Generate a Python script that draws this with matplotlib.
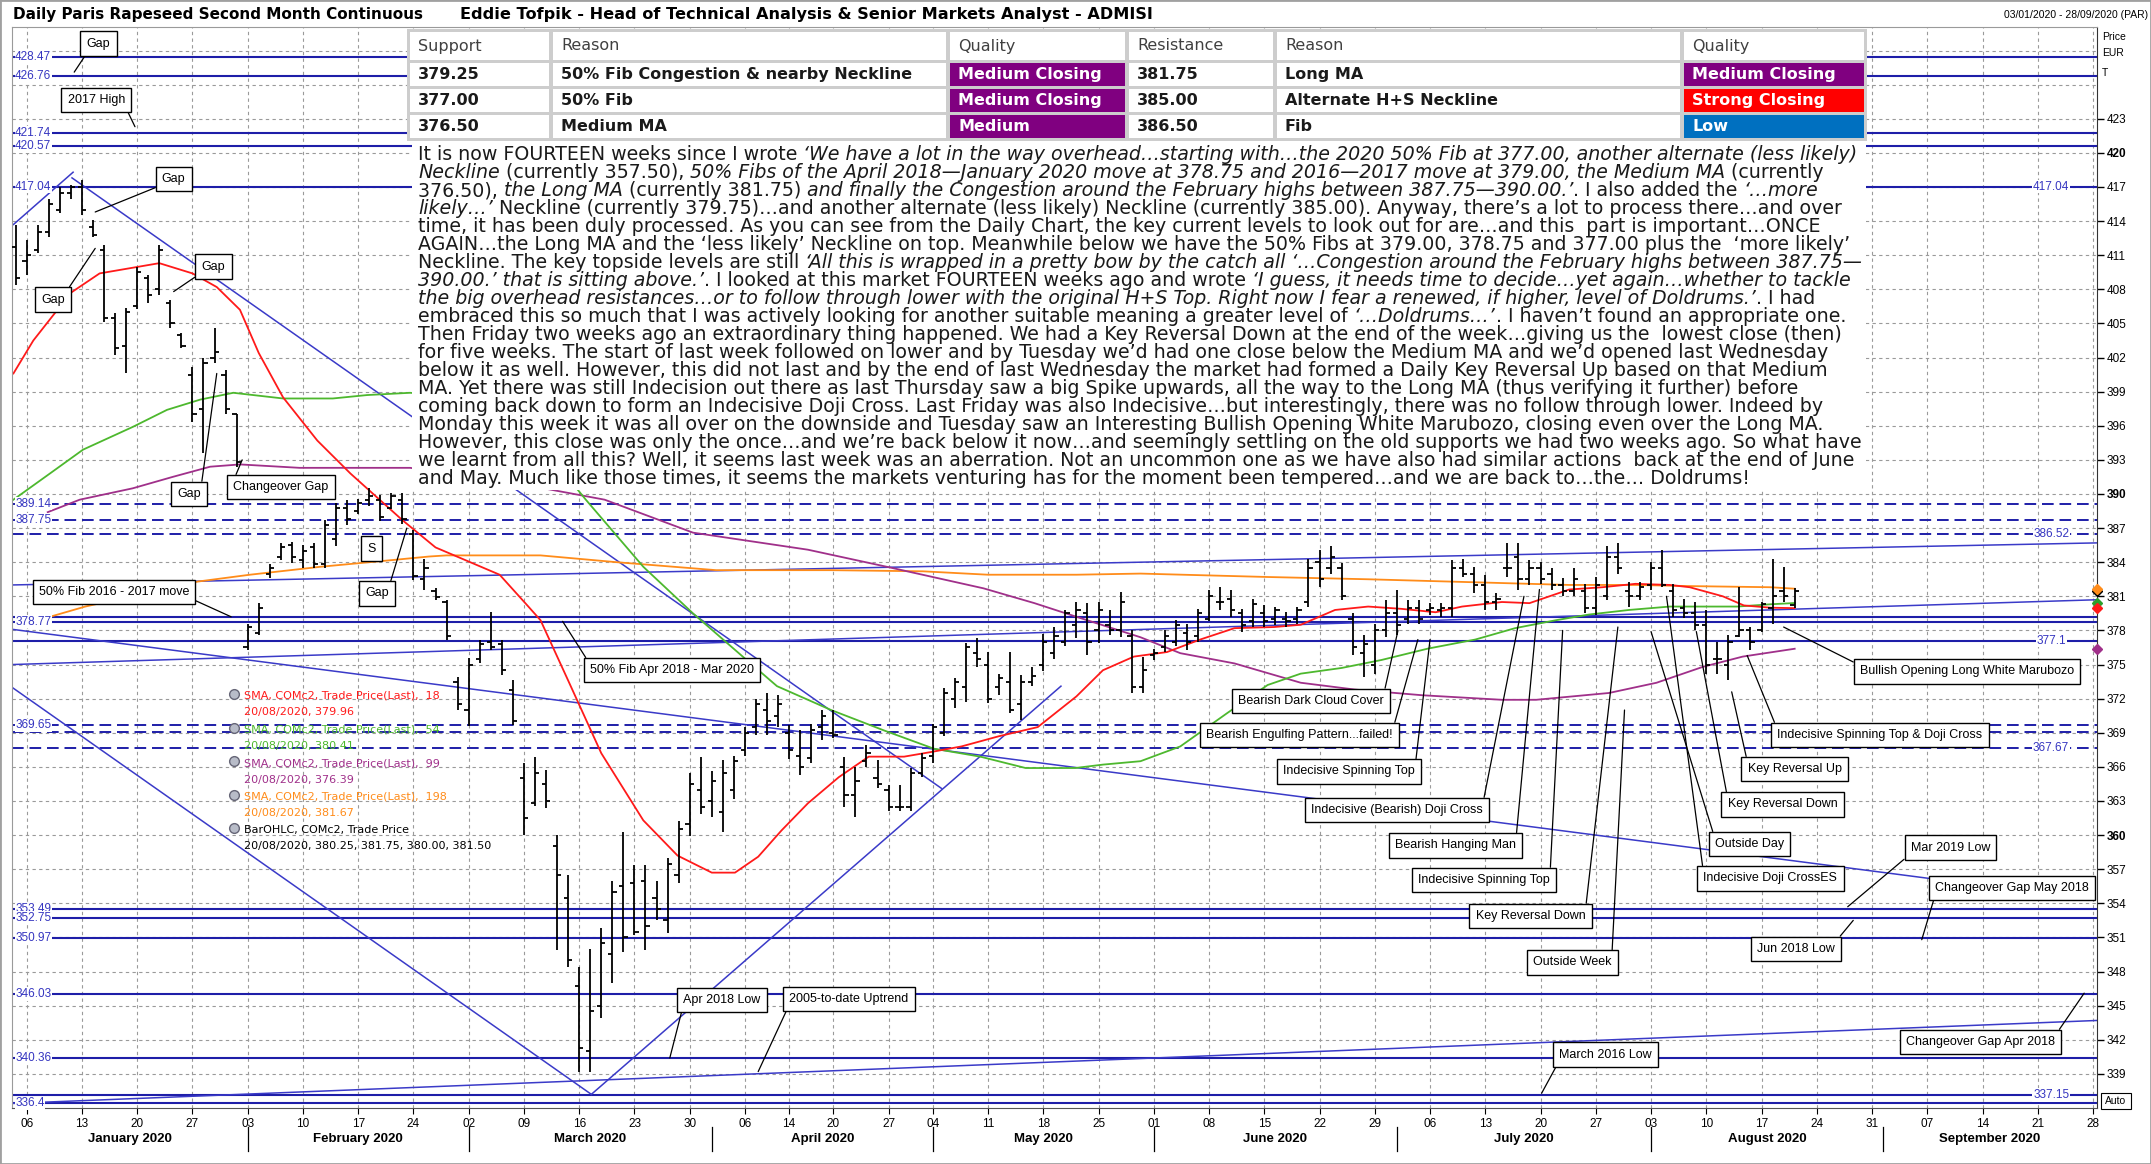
import matplotlib
matplotlib.use("Agg")
import matplotlib.pyplot as plt
import numpy as np
import pandas as pd
from matplotlib.font_manager import FontProperties
from matplotlib.lines import Line2D
from matplotlib.patches import Rectangle
from matplotlib.transforms import blended_transform_factory

W, H = 2151, 1164  # output size in pixels, saved at dpi 100

plt.rcParams["font.family"] = ["Liberation Sans", "DejaVu Sans"]

# ---------------------------------------------------------------- data
holidays = ["2020-04-10", "2020-04-13", "2020-05-01"]

# daily OHLC, 03/01/2020 .. 20/08/2020 (one value per trading day)
bar_open = [
    411.7, 410.5, 411.5, 413.0, 415.0, 416.5, 417.0, 413.5, 411.5, 405.5,
    403.0, 406.5, 409.0, 408.0, 406.8, 404.0, 400.5, 397.5, 402.0, 400.5,
    397.0, 376.5, 377.8, 383.0, 384.5, 385.5, 384.2, 385.3, 383.8, 386.0,
    388.8, 388.5, 389.5, 389.5, 388.8, 389.5, 386.5, 382.5, 381.5, 380.5,
    373.5, 371.0, 375.5, 377.0, 376.8, 372.8, 365.0, 362.8, 364.5, 359.0,
    354.5, 346.7, 341.0, 345.0, 349.5, 355.5, 355.8, 356.0, 354.5, 352.5,
    356.5, 361.0, 364.0, 363.0, 362.0, 364.0, 367.5, 369.5, 371.0, 370.5,
    369.0, 367.0, 366.8, 369.5, 369.0, 366.0, 363.5, 366.5, 365.0, 364.0,
    362.5, 362.5, 365.5, 367.0, 369.0, 372.0, 373.0, 376.0, 375.0, 373.0,
    373.5, 371.5, 373.5, 375.0, 376.0, 377.0, 378.5, 379.5, 378.0, 378.5,
    378.0, 377.5, 373.0, 375.8, 376.5, 377.0, 377.8, 377.5, 379.0, 380.5,
    380.8, 379.5, 378.8, 379.5, 379.0, 379.0, 379.0, 380.5, 384.0, 383.5,
    383.5, 379.0, 376.0, 375.0, 378.0, 379.5, 379.0, 380.0, 379.8, 379.8,
    380.0, 383.5, 383.0, 382.0, 380.5, 383.5, 384.5, 382.5, 383.5, 383.0,
    382.0, 381.5, 381.5, 380.0, 381.0, 384.5, 381.5, 381.0, 382.0, 383.5,
    381.5, 380.0, 379.5, 378.5, 375.5, 375.0, 377.5, 378.0, 378.0, 380.0,
    381.5, 380.25,
]
bar_high = [
    413.7, 412.3, 413.7, 415.9, 417.0, 417.2, 417.6, 414.1, 411.9, 405.9,
    406.4, 410.0, 409.3, 411.9, 407.1, 404.2, 401.2, 402.0, 404.6, 400.9,
    397.0, 378.6, 380.4, 383.8, 385.7, 385.8, 385.5, 385.7, 387.7, 389.2,
    389.5, 389.6, 390.5, 389.9, 390.1, 390.1, 386.8, 384.3, 381.7, 380.7,
    373.9, 375.6, 377.2, 379.6, 377.2, 373.6, 366.3, 366.9, 365.7, 360.0,
    356.5, 348.4, 350.0, 351.8, 356.0, 360.3, 357.4, 357.4, 356.0, 358.0,
    361.2, 365.5, 366.9, 365.6, 366.6, 367.0, 369.5, 372.0, 372.5, 372.3,
    369.7, 369.2, 369.8, 371.0, 371.0, 366.9, 366.0, 367.9, 366.6, 364.4,
    364.4, 365.9, 367.2, 369.8, 372.9, 373.8, 376.9, 377.3, 376.1, 374.2,
    376.1, 374.1, 374.8, 377.7, 378.3, 379.8, 380.5, 380.4, 380.5, 379.8,
    381.4, 378.0, 375.7, 376.4, 378.0, 378.9, 378.6, 379.9, 381.6, 381.8,
    381.6, 379.9, 380.8, 380.2, 380.1, 379.6, 380.1, 384.3, 385.1, 385.4,
    383.9, 379.5, 377.6, 378.6, 380.7, 381.6, 380.7, 380.7, 380.4, 380.4,
    384.2, 384.3, 383.6, 382.9, 381.3, 385.7, 385.7, 384.2, 384.0, 383.5,
    382.6, 383.5, 382.1, 382.7, 385.4, 385.7, 382.3, 382.3, 384.0, 385.1,
    382.1, 380.8, 380.5, 379.8, 377.0, 377.6, 381.8, 378.3, 380.5, 384.3,
    383.6, 381.75,
]
bar_low = [
    408.4, 409.3, 411.2, 412.6, 414.7, 415.9, 414.5, 412.6, 405.1, 402.2,
    400.6, 406.3, 406.8, 407.5, 404.6, 402.8, 396.3, 393.6, 401.5, 397.0,
    392.4, 376.3, 377.6, 382.6, 384.2, 383.9, 383.5, 383.5, 383.5, 385.4,
    387.3, 388.2, 388.9, 387.6, 388.7, 387.4, 382.4, 381.6, 380.7, 377.2,
    371.0, 369.6, 375.1, 376.3, 374.1, 369.7, 360.0, 362.6, 362.4, 349.9,
    348.4, 339.2, 339.2, 343.9, 347.0, 349.7, 351.2, 349.9, 352.5, 351.4,
    355.8, 359.9, 361.9, 361.6, 360.3, 363.2, 367.0, 368.8, 368.8, 369.5,
    366.7, 365.3, 366.3, 368.4, 368.5, 362.5, 361.6, 366.0, 364.1, 362.1,
    362.1, 362.1, 365.1, 366.3, 368.7, 371.2, 371.7, 374.8, 371.6, 372.3,
    370.7, 370.1, 373.1, 374.4, 375.5, 376.6, 377.3, 375.8, 376.9, 377.6,
    377.4, 372.5, 372.5, 375.4, 376.1, 376.6, 376.3, 377.0, 378.8, 379.8,
    379.2, 377.9, 378.3, 378.3, 378.5, 378.3, 378.6, 380.1, 381.8, 383.0,
    380.7, 375.8, 373.9, 374.2, 377.4, 377.6, 378.6, 378.6, 379.4, 379.2,
    379.2, 382.7, 381.3, 379.8, 379.8, 382.7, 381.6, 382.0, 382.1, 381.6,
    381.0, 381.0, 379.5, 379.4, 380.7, 383.0, 380.1, 380.7, 381.6, 381.8,
    379.2, 379.1, 378.0, 374.2, 374.2, 373.6, 377.4, 376.3, 377.9, 378.6,
    380.5, 380.00,
]
bar_close = [
    409.0, 411.0, 413.0, 415.5, 416.5, 417.0, 415.0, 412.8, 405.5, 402.8,
    406.0, 409.5, 407.5, 411.5, 405.0, 403.0, 397.0, 401.5, 402.5, 397.5,
    392.8, 378.3, 380.0, 383.5, 385.3, 384.5, 385.0, 383.8, 387.3, 388.8,
    387.8, 389.2, 389.8, 388.0, 389.8, 387.8, 382.8, 383.5, 380.9, 377.5,
    371.5, 375.0, 376.8, 376.5, 374.5, 370.0, 361.5, 365.5, 363.0, 356.5,
    349.0, 341.3, 344.5, 350.5, 355.0, 351.0, 351.5, 352.0, 353.5, 357.5,
    360.5, 364.5, 362.5, 364.8, 365.5, 366.5, 369.0, 371.5, 370.0, 371.5,
    367.5, 366.0, 369.2, 370.5, 368.8, 363.5, 364.8, 367.2, 364.5, 362.5,
    362.5, 365.5, 366.8, 369.5, 372.5, 373.5, 376.5, 375.5, 372.0, 373.8,
    371.0, 373.5, 374.0, 377.0, 377.5, 379.5, 379.8, 377.0, 379.8, 378.0,
    380.5, 373.0, 374.5, 376.0, 377.5, 378.5, 377.0, 379.5, 381.0, 380.5,
    379.8, 378.5, 380.3, 378.8, 379.8, 378.8, 379.8, 383.5, 382.5, 384.5,
    381.0, 376.5, 376.8, 378.0, 379.5, 378.5, 380.0, 379.0, 380.0, 380.0,
    383.5, 383.0, 382.0, 380.5, 380.8, 383.5, 382.5, 383.5, 382.5, 382.0,
    381.5, 382.5, 380.0, 382.0, 384.5, 383.5, 381.0, 381.8, 383.5, 382.0,
    379.8, 379.5, 378.5, 375.0, 375.5, 377.0, 378.0, 377.0, 380.3, 381.0,
    381.0, 381.50,
]

# moving averages (trading-day index, value)
sma18_x = [-0.2, 1.6, 5, 7.6, 10.6, 13, 16, 18.2, 20.3, 22, 24.2, 27.3, 30.3, 35, 38,
           43.8, 46.4, 47.5, 50, 53, 56.8, 59.9, 63, 65.1, 67.2, 69.3, 71.7, 74.5, 77.2,
           80.4, 82.8, 85.6, 89, 92.5, 96, 98.4, 101.2, 104.2, 107.2, 110.3, 113.9,
           116.3, 119.4, 122.4, 125.4, 128.5, 130.9, 134.5, 137, 140.6, 143.6, 146.6,
           149.7, 151.5, 154.5, 156.4, 158.8, 161]
sma18_y = [400.6, 403.5, 407.7, 409.4, 409.9, 410.3, 409.4, 408.2, 406.2, 402.4, 398.5,
           394.7, 391.8, 387.7, 385.3, 382.9, 380.1, 378.9, 373.6, 367.2, 361.3, 358.2,
           356.7, 356.7, 358.1, 360.4, 362.8, 365.1, 366.9, 366.9, 367.3, 367.8, 368.7,
           369.5, 372.2, 374.5, 375.7, 376.1, 377.2, 378.2, 378.3, 378.5, 379.8, 380.1,
           379.9, 379.6, 380.1, 380.5, 380.4, 381.6, 381.8, 382.1, 382.0, 381.8, 381.0,
           380.2, 380.0, 379.96]
sma54_x = [-0.2, 3.1, 6.1, 10.6, 13.7, 16.7, 19.7, 24.2, 28.7, 31.8, 35.7, 40, 44, 47,
           49.5, 51.6, 56.8, 61.3, 65.8, 68.9, 73.8, 78.6, 83.1, 87.3, 91.4, 95.9, 98.4,
           101.8, 105.4, 109.6, 113.3, 116.3, 120, 123.6, 127.8, 132.1, 135.7, 139.4,
           142.4, 146, 149.7, 155.8, 158.8, 161]
sma54_y = [389.5, 391.8, 393.9, 395.9, 397.4, 398.3, 398.9, 398.4, 398.4, 398.7, 398.9,
           398.5, 397.3, 395.3, 392.0, 389.5, 383.6, 379.5, 375.7, 373.1, 371.0, 369.2,
           367.6, 366.9, 365.9, 365.9, 366.2, 366.5, 367.8, 370.7, 373.2, 374.2, 374.7,
           375.4, 376.4, 377.2, 378.2, 378.9, 379.4, 379.8, 380.1, 380.1, 380.3, 380.41]
sma99_x = [2.9, 5.8, 10.6, 14.2, 17.6, 20.3, 25.7, 35.7, 45, 53.3, 61.3, 71.7, 79.3, 87.6,
           92.2, 96, 101.8, 105.4, 110.3, 116.3, 121.2, 127.3, 134.5, 137.6, 144.2, 148.5,
           152.7, 156.3, 161]
sma99_y = [388.4, 389.5, 390.5, 391.5, 392.4, 392.6, 392.3, 392.3, 391.0, 389.5, 386.6,
           385.1, 383.5, 381.7, 380.4, 379.2, 377.4, 376.0, 375.1, 373.4, 372.8, 372.3,
           371.9, 371.9, 372.5, 373.4, 374.8, 375.7, 376.39]
sma198_x = [3.1, 6.3, 16.5, 21.2, 27.6, 34.2, 37.4, 39, 47.5, 54.4, 63.4, 73.8, 82.1, 88,
            96, 101.8, 113.3, 122.4, 129.7, 140.6, 146.6, 151.5, 158.8, 161]
sma198_y = [379.2, 380.1, 382.3, 382.9, 383.6, 384.2, 384.5, 384.6, 384.6, 384.0, 383.3,
            383.3, 383.2, 382.9, 382.9, 383.0, 382.7, 382.5, 382.3, 382.0, 382.0, 381.9,
            381.8, 381.67]

solid_levels = [428.47, 426.76, 421.74, 420.57, 417.04, 379.2, 378.77, 377.1,
                353.49, 352.75, 350.97, 346.03, 340.36, 337.15, 336.4]
dashed_levels = [389.14, 387.75, 386.52, 369.65, 369.1, 367.67]
left_level_labels = ["428.47", "426.76", "421.74", "420.57", "417.04", "389.14", "387.75",
                     "378.77", "369.65", "353.49", "352.75", "350.97", "346.03", "340.36",
                     "336.4"]
right_level_labels = ["417.04", "386.52", "377.1", "367.67", "337.15"]

# trend lines: (x0, y0, x1, y1) in trading-day index / price
trend_lines = [
    (-0.33, 375.0, 188.4, 380.7),
    (-0.33, 382.0, 188.4, 385.7),
    (-0.33, 378.1, 173.1, 356.2),
    (-0.33, 336.4, 188.4, 343.7),
    (-0.33, 373.0, 52.1, 337.2),
    (52.1, 337.2, 94.6, 373.1),
    (5.1, 417.8, 83.8, 364.1),
    (-0.2, 413.7, 5.2, 418.3),
]

# chart notes: text, box centre (idx, price), pointer end (idx, price), line start on box
notes = [
    ("Gap", 7.5, 429.6, 5.3, 427.1, (0.1, 0.0)),
    ("2017 High", 7.3, 424.65, 10.8, 422.3, (1.0, 0.0)),
    ("Gap", 14.3, 417.7, 7.2, 414.8, (0.0, 0.0)),
    ("Gap", 17.9, 410.0, 14.3, 407.8, (0.0, 0.0)),
    ("Gap", 3.4, 407.1, 7.2, 411.6, (1.0, 1.0)),
    ("Gap", 15.7, 390.0, 18.2, 400.6, (1.0, 1.0)),
    ("Changeover Gap", 24.0, 390.6, 20.5, 393.0, (0.0, 1.0)),
    ("S", 32.2, 385.2, 32.2, 385.2, (0.5, 0.5)),
    ("Gap", 32.7, 381.25, 35.4, 387.0, (1.0, 1.0)),
    ("50% Fib 2016 - 2017 move", 8.9, 381.4, 19.5, 379.2, (1.0, 0.0)),
    ("50% Fib Apr 2018 - Mar 2020", 59.4, 374.5, 49.5, 378.8, (0.0, 1.0)),
    ("Bearish Dark Cloud Cover", 117.2, 371.8, 125.1, 378.0, (1.0, 1.0)),
    ("Bearish Engulfing Pattern...failed!", 116.2, 368.8, 126.9, 377.2, (1.0, 1.0)),
    ("Indecisive Spinning Top", 120.7, 365.6, 128.0, 377.2, (1.0, 1.0)),
    ("Indecisive (Bearish) Doji Cross", 125.0, 362.2, 136.5, 381.0, (1.0, 1.0)),
    ("Bearish Hanging Man", 130.3, 359.1, 137.9, 381.6, (1.0, 1.0)),
    ("Indecisive Spinning Top", 132.9, 356.05, 140.0, 378.0, (1.0, 1.0)),
    ("Key Reversal Down", 137.1, 352.9, 145.0, 378.3, (1.0, 1.0)),
    ("Outside Week", 140.9, 348.8, 145.6, 371.0, (1.0, 1.0)),
    ("Outside Day", 156.9, 359.2, 148.0, 377.9, (0.0, 1.0)),
    ("Indecisive Doji CrossES", 158.8, 356.2, 149.4, 381.0, (0.0, 1.0)),
    ("Key Reversal Down", 159.9, 362.7, 152.1, 377.9, (0.0, 1.0)),
    ("Key Reversal Up", 161.0, 365.8, 155.3, 372.6, (0.0, 1.0)),
    ("Indecisive Spinning Top & Doji Cross", 168.7, 368.8, 156.7, 375.8, (0.0, 1.0)),
    ("Bullish Opening Long White Marubozo", 176.6, 374.4, 160.0, 378.3, (0.0, 1.0)),
    ("Mar 2019 Low", 175.1, 358.9, 165.8, 353.7, (0.0, 0.0)),
    ("Changeover Gap May 2018", 180.7, 355.35, 172.5, 350.8, (0.0, 0.0)),
    ("Jun 2018 Low", 161.1, 350.0, 166.3, 352.5, (1.0, 1.0)),
    ("Apr 2018 Low", 63.9, 345.5, 59.2, 340.4, (0.0, 0.0)),
    ("2005-to-date Uptrend", 75.4, 345.6, 67.2, 339.2, (0.0, 0.0)),
    ("March 2016 Low", 143.9, 340.7, 138.1, 337.3, (0.0, 0.0)),
    ("Changeover Gap Apr 2018", 177.8, 341.8, 187.2, 346.1, (1.0, 1.0)),
]

# support / resistance table
table_headers = ["Support", "Reason", "Quality", "Resistance", "Reason", "Quality"]
support_vals = ["379.25", "377.00", "376.50"]
support_reasons = ["50% Fib Congestion & nearby Neckline", "50% Fib", "Medium MA"]
support_quality = ["Medium Closing", "Medium Closing", "Medium"]
resist_vals = ["381.75", "385.00", "386.50"]
resist_reasons = ["Long MA", "Alternate H+S Neckline", "Fib"]
resist_quality = ["Medium Closing", "Strong Closing", "Low"]
quality_colors = {"Medium Closing": "#800080", "Medium": "#800080",
                  "Strong Closing": "#ff0000", "Low": "#0070c0"}

# commentary, one entry per printed line: (text, italic)
para_lines = [
    [("It is now FOURTEEN weeks since I wrote ", 0),
     ("‘We have a lot in the way overhead…starting with…the 2020 50% Fib at 377.00, another alternate (less likely)", 1)],
    [("Neckline", 1), (" (currently 357.50), ", 0),
     ("50% Fibs of the April 2018—January 2020 move at 378.75 and 2016—2017 move at 379.00, the Medium MA", 1),
     (" (currently", 0)],
    [("376.50), ", 0), ("the Long MA", 1), (" (currently 381.75) ", 0),
     ("and finally the Congestion around the February highs between 387.75—390.00.’", 1),
     (". I also added the ", 0), ("‘…more", 1)],
    [("likely…’", 1),
     (" Neckline (currently 379.75)…and another alternate (less likely) Neckline (currently 385.00). Anyway, there’s a lot to process there…and over", 0)],
    [("time, it has been duly processed. As you can see from the Daily Chart, the key current levels to look out for are…and this  part is important…ONCE", 0)],
    [("AGAIN…the Long MA and the ‘less likely’ Neckline on top. Meanwhile below we have the 50% Fibs at 379.00, 378.75 and 377.00 plus the  ‘more likely’", 0)],
    [("Neckline. The key topside levels are still ", 0),
     ("‘All this is wrapped in a pretty bow by the catch all ‘…Congestion around the February highs between 387.75—", 1)],
    [("390.00.’ that is sitting above.’", 1), (". I looked at this market FOURTEEN weeks ago and wrote ", 0),
     ("‘I guess, it needs time to decide…yet again…whether to tackle", 1)],
    [("the big overhead resistances…or to follow through lower with the original H+S Top. Right now I fear a renewed, if higher, level of Doldrums.’", 1),
     (". I had", 0)],
    [("embraced this so much that I was actively looking for another suitable meaning a greater level of ", 0),
     ("‘…Doldrums…’", 1), (". I haven’t found an appropriate one.", 0)],
    [("Then Friday two weeks ago an extraordinary thing happened. We had a Key Reversal Down at the end of the week…giving us the  lowest close (then)", 0)],
    [("for five weeks. The start of last week followed on lower and by Tuesday we’d had one close below the Medium MA and we’d opened last Wednesday", 0)],
    [("below it as well. However, this did not last and by the end of last Wednesday the market had formed a Daily Key Reversal Up based on that Medium", 0)],
    [("MA. Yet there was still Indecision out there as last Thursday saw a big Spike upwards, all the way to the Long MA (thus verifying it further) before", 0)],
    [("coming back down to form an Indecisive Doji Cross. Last Friday was also Indecisive…but interestingly, there was no follow through lower. Indeed by", 0)],
    [("Monday this week it was all over on the downside and Tuesday saw an Interesting Bullish Opening White Marubozo, closing even over the Long MA.", 0)],
    [("However, this close was only the once…and we’re back below it now…and seemingly settling on the old supports we had two weeks ago. So what have", 0)],
    [("we learnt from all this? Well, it seems last week was an aberration. Not an uncommon one as we have also had similar actions  back at the end of June", 0)],
    [("and May. Much like those times, it seems the markets venturing has for the moment been tempered…and we are back to…the… Doldrums!", 0)],
]

legend_rows = [
    ("SMA, COMc2, Trade Price(Last),  18", "20/08/2020, 379.96", "#ff1a1a"),
    ("SMA, COMc2, Trade Price(Last),  54", "20/08/2020, 380.41", "#4db82e"),
    ("SMA, COMc2, Trade Price(Last),  99", "20/08/2020, 376.39", "#a0308a"),
    ("SMA, COMc2, Trade Price(Last),  198", "20/08/2020, 381.67", "#ff8c1a"),
    ("BarOHLC, COMc2, Trade Price", "20/08/2020, 380.25, 381.75, 380.00, 381.50", "#000000"),
]


# ---------------------------------------------------------------- helpers
def fx(px):
    return px / W


def fy(py):
    return 1 - py / H


dates = pd.bdate_range("2020-01-03", "2020-09-28")
dates = dates[~dates.isin(pd.to_datetime(holidays))]
n_days = len(dates)
iso = dates.isocalendar()
week_key = (iso["year"] * 100 + iso["week"]).to_numpy()
week_first = [i for i in range(1, n_days) if week_key[i] != week_key[i - 1]]
month_first = [i for i in range(1, n_days) if dates[i].month != dates[i - 1].month]

level_color = "#1e1ea8"
trend_color = "#3a3ac8"
label_blue = "#3535c0"

fig = plt.figure(figsize=(W / 100, H / 100), dpi=100)
fig.patch.set_facecolor("white")
ax = fig.add_axes([fx(12), fy(1108), (2097 - 12) / W, (1108 - 27) / H])
x_left, x_right = -0.33, n_days - 0.64
ax.set_xlim(x_left, x_right)
ax.set_ylim(336.0, 431.07)

# grid
ax.set_xticks(week_first)
ax.set_xticklabels([dates[i].strftime("%d") for i in week_first])
ax.yaxis.tick_right()
yt = np.arange(339, 430, 3)
ax.set_yticks(yt)
ax.set_yticklabels([str(v) if v <= 423 else "" for v in yt])
for lab, v in zip(ax.get_yticklabels(), yt):
    if v % 30 == 0:
        lab.set_fontweight("bold")
        lab.set_fontsize(10.5)
for tk, v in zip(ax.yaxis.get_major_ticks(), yt):
    if v > 423:
        tk.tick2line.set_visible(False)
ax.grid(True, color="#9a9a9a", linestyle=(0, (3, 3)), lw=0.8, zorder=0)
ax.set_axisbelow(True)
ax.tick_params(axis="y", length=5, width=1, pad=2, labelsize=8.5)
ax.tick_params(axis="x", length=4, width=0.8, pad=3, labelsize=8.5)
for side in ["top", "left"]:
    ax.spines[side].set_color("#9a9a9a")
ax.spines["right"].set_color("#333333")
ax.spines["bottom"].set_color("#555555")

# horizontal levels
for lv in solid_levels:
    ax.axhline(lv, color=level_color, lw=1.5, zorder=1.5)
for lv in dashed_levels:
    ax.axhline(lv, color=level_color, lw=1.4, ls=(0, (6, 3)), zorder=1.5)
for lab in left_level_labels:
    ax.text(0.0015, float(lab), lab, transform=blended_transform_factory(ax.transAxes, ax.transData),
            ha="left", va="center", fontsize=8.5, color=label_blue, zorder=6,
            bbox=dict(boxstyle="square,pad=0.05", fc="white", ec="none"))
for lab in right_level_labels:
    ax.text(0.978, float(lab), lab, transform=blended_transform_factory(ax.transAxes, ax.transData),
            ha="center", va="center", fontsize=8.5, color=label_blue, zorder=6,
            bbox=dict(boxstyle="square,pad=0.05", fc="white", ec="none"))

# trend lines
for x0, y0, x1, y1 in trend_lines:
    ax.plot([x0, x1], [y0, y1], color=trend_color, lw=1.1, zorder=2)

# moving averages
ax.plot(sma198_x, sma198_y, color="#ff8c1a", lw=1.3, zorder=2.5)
ax.plot(sma99_x, sma99_y, color="#a0308a", lw=1.3, zorder=2.5)
ax.plot(sma54_x, sma54_y, color="#4db82e", lw=1.3, zorder=2.5)
ax.plot(sma18_x, sma18_y, color="#ff1a1a", lw=1.3, zorder=2.5)

# OHLC bars
xs = np.arange(len(bar_high))
ax.vlines(xs, bar_low, bar_high, color="black", lw=1.3, zorder=4)
ax.hlines(bar_open, xs - 0.38, xs, color="black", lw=1.3, zorder=4)
ax.hlines(bar_close, xs, xs + 0.38, color="black", lw=1.3, zorder=4)

# last-value markers on the price axis
for val, col in [(bar_close[-1], "black"), (sma198_y[-1], "#ff8c1a"), (sma54_y[-1], "#2ca02c"),
                 (sma18_y[-1], "#ff1a1a"), (sma99_y[-1], "#a0308a")]:
    ax.plot([x_right], [val], marker="D", ms=5, color=col, clip_on=False, zorder=7)

# notes
for text, cx, cy, tx, ty, rel in notes:
    arrow = None
    if (tx, ty) != (cx, cy):
        arrow = dict(arrowstyle="-", color="black", lw=0.9, shrinkA=0, shrinkB=0, relpos=rel)
    ax.annotate(text, xy=(tx, ty), xytext=(cx, cy), ha="center", va="center", fontsize=9,
                bbox=dict(boxstyle="square,pad=0.5", fc="white", ec="black", lw=1),
                arrowprops=arrow, zorder=8, annotation_clip=False)

# month labels and separators
trans = blended_transform_factory(ax.transData, ax.transAxes)
edges = [x_left] + month_first + [x_right]
for a, b in zip(edges[:-1], edges[1:]):
    ax.text((a + b) / 2, -0.029, dates[int(max(a, 0))].strftime("%B %Y"), transform=trans,
            ha="center", va="center", fontsize=9.5, fontweight="bold")
for m in month_first:
    ax.plot([m, m], [-0.018, -0.04], transform=trans, color="black", lw=0.9, clip_on=False)

# indicator legend
for k, (l1, l2, col) in enumerate(legend_rows):
    y1 = 696 + k * 33.5
    fig.add_artist(Line2D([fx(234)], [fy(y1 - 2)], marker="o", ms=7, mfc="#b8bcc8", mec="#666677",
                          transform=fig.transFigure, zorder=6))
    fig.text(fx(244), fy(y1), l1, color=col, fontsize=8, family="DejaVu Sans", va="center", zorder=6)
    fig.text(fx(244), fy(y1 + 16.5), l2, color=col, fontsize=8, family="DejaVu Sans", va="center",
             zorder=6)

# header texts
fig.text(fx(13), fy(14), "Daily Paris Rapeseed Second Month Continuous", fontsize=11,
         family="DejaVu Sans", fontweight="bold", va="center")
fig.text(fx(460), fy(14), "Eddie Tofpik - Head of Technical Analysis & Senior Markets Analyst - ADMISI",
         fontsize=11.6, family="DejaVu Sans", fontweight="bold", va="center")
fig.text(fx(2148), fy(15), "03/01/2020 - 28/09/2020 (PAR)", fontsize=7.5, ha="right", va="center")
for t, yy in [("Price", 37), ("EUR", 53), ("T", 73)]:
    fig.text(fx(2102), fy(yy), t, fontsize=7.5, va="center")
fig.add_artist(Rectangle((fx(2101), fy(1109)), 30 / W, 16 / H, transform=fig.transFigure,
                         fc="white", ec="black", lw=0.8, zorder=6))
fig.text(fx(2116), fy(1101), "Auto", fontsize=7.5, ha="center", va="center", zorder=7)


def box(x0, y0, x1, y1, color, z=5):
    fig.add_artist(Rectangle((fx(x0), fy(y1)), (x1 - x0) / W, (y1 - y0) / H,
                             transform=fig.transFigure, fc=color, ec="none", zorder=z))


# support / resistance table
box(407, 29, 1867, 141, "#cdcdcd")
col_edges = [(410, 549), (553, 946), (950, 1125), (1129, 1273), (1277, 1680), (1684, 1864)]
row_edges = [(32, 60), (63, 86), (89, 112), (115, 138)]
tab_font = dict(family="DejaVu Sans", size=11.5)
for c, (x0, x1) in enumerate(col_edges):
    box(x0, row_edges[0][0], x1, row_edges[0][1], "white", 5.5)
    fig.text(fx(x0 + 8), fy(sum(row_edges[0]) / 2), table_headers[c], color="#404040",
             va="center", zorder=7, **tab_font)
for r in range(3):
    y0, y1 = row_edges[r + 1]
    cells = [support_vals[r], support_reasons[r], support_quality[r],
             resist_vals[r], resist_reasons[r], resist_quality[r]]
    for c, (x0, x1) in enumerate(col_edges):
        quality = c in (2, 5)
        box(x0, y0, x1, y1, quality_colors[cells[c]] if quality else "white", 5.5)
        fig.text(fx(x0 + 8), fy((y0 + y1) / 2), cells[c], color="white" if quality else "#1a1a1a",
                 va="center", fontweight="bold", zorder=7, **tab_font)

# commentary block
box(412, 141, 1866, 490, "white")
renderer = fig.canvas.get_renderer()


def advance(s, prop):
    w1 = renderer.get_text_width_height_descent(s + "|", prop, ismath=False)[0]
    w2 = renderer.get_text_width_height_descent("|", prop, ismath=False)[0]
    return w1 - w2


def props(size, italic):
    return FontProperties(family="DejaVu Sans", size=size, style="italic" if italic else "normal")


probe = sum(advance(s, props(10, it)) for s, it in para_lines[0])
para_size = 10 * 1437 / probe
for k, line in enumerate(para_lines):
    xpos = 418
    ypos = 155 + k * 17.95
    for s, it in line:
        fp = props(para_size, it)
        fig.text(fx(xpos), fy(ypos), s, fontproperties=fp, va="center", color="#1a1a1a", zorder=7)
        xpos += advance(s, fp)

fig.add_artist(Rectangle((0, 0), 1, 1, transform=fig.transFigure, fill=False, ec="#a0a0a0", lw=2))
fig.savefig("out.png", dpi=100)
